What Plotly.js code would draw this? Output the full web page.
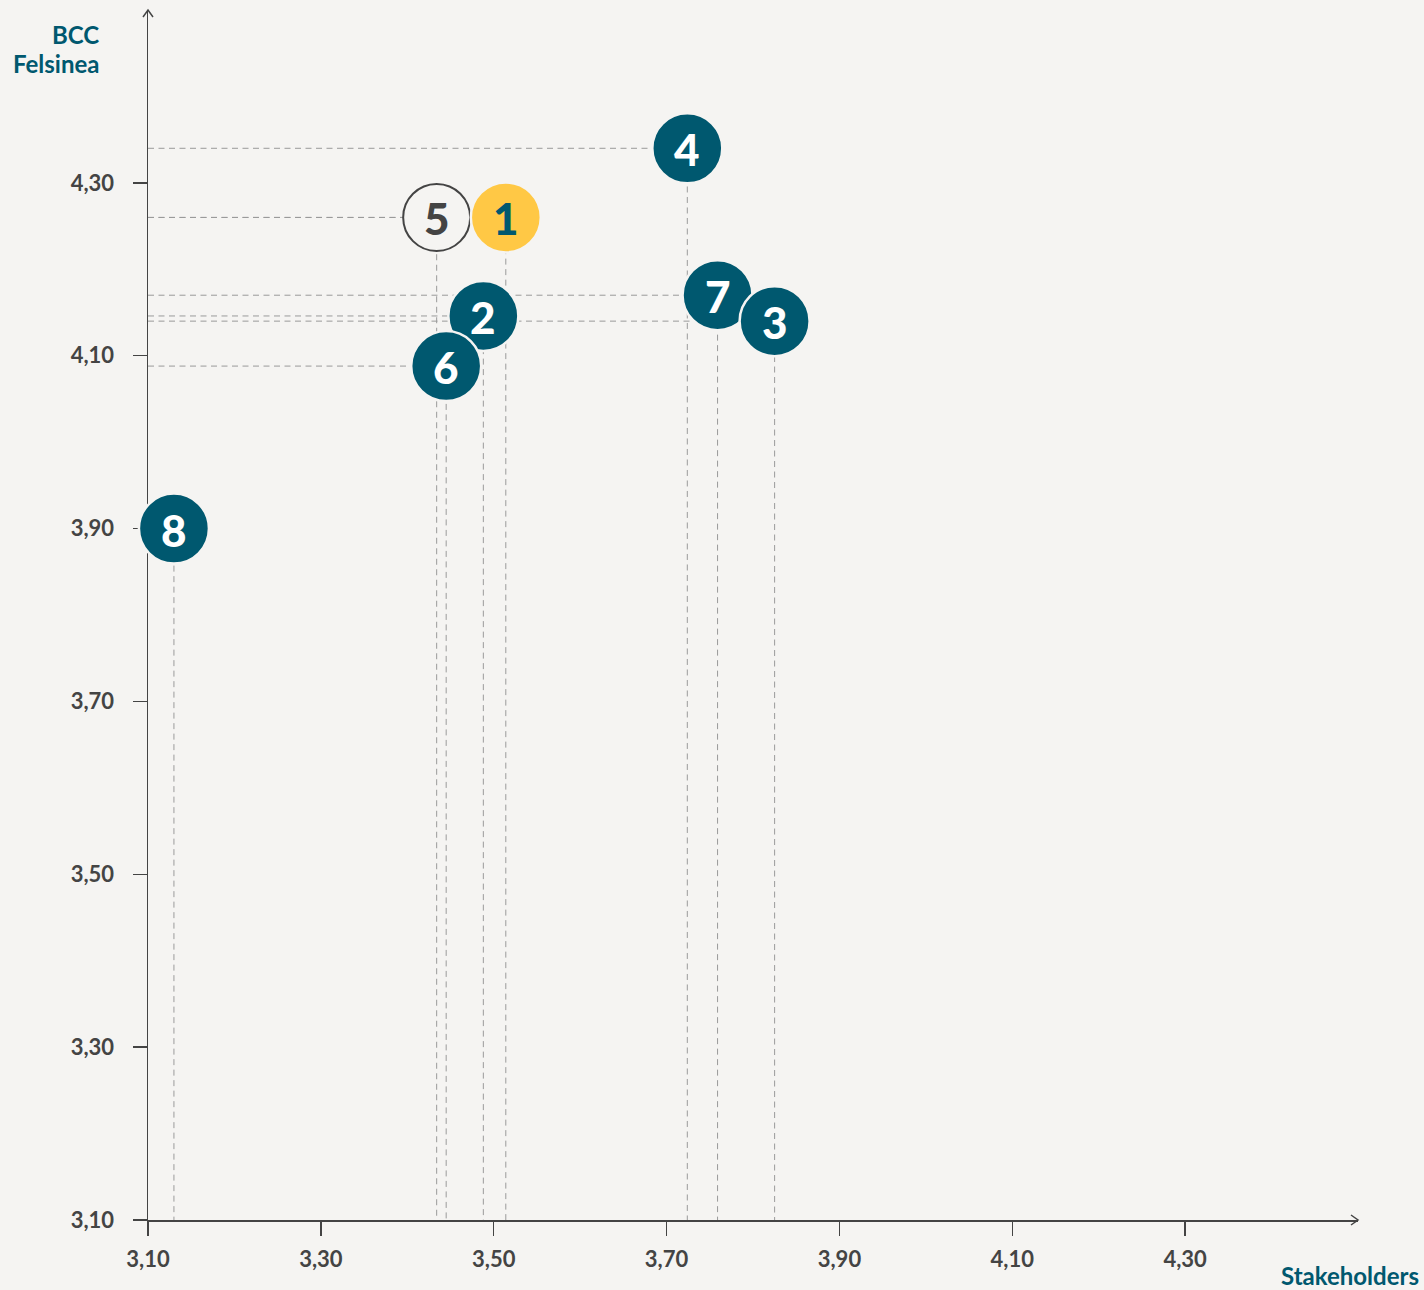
<!DOCTYPE html>
<html>
<head>
<meta charset="utf-8">
<script src="https://cdn.plot.ly/plotly-3.0.1.min.js"></script>
<style>
  html, body { margin: 0; padding: 0; background: #F5F4F2; }
  #chart { width: 1424px; height: 1290px; }
</style>
</head>
<body>
<div id="chart"></div>
<script>
// ---- data ----
var labels       = ['4', '5', '1', '7', '3', '2', '6', '8'];
var stakeholders = [3.724, 3.434, 3.514, 3.759, 3.825, 3.488, 3.445, 3.130];
var bccFelsinea  = [4.340, 4.260, 4.260, 4.170, 4.140, 4.146, 4.088, 3.900];
var kinds        = ['teal', 'outline', 'yellow', 'teal', 'teal', 'teal', 'teal', 'teal'];

var xTickVals = [3.10, 3.30, 3.50, 3.70, 3.90, 4.10, 4.30];
var xTickText = ['3,10', '3,30', '3,50', '3,70', '3,90', '4,10', '4,30'];
var yTickVals = [3.10, 3.30, 3.50, 3.70, 3.90, 4.10, 4.30];
var yTickText = ['3,10', '3,30', '3,50', '3,70', '3,90', '4,10', '4,30'];
var axisMin = 3.10, axisMax = 4.50;

var xTitle = 'Stakeholders';
var yTitleLines = ['BCC', 'Felsinea'];

// ---- styles ----
var BG = '#F5F4F2';
var TEAL = '#00586F';
var YELLOW = '#FFC845';
var DARK = '#444444';
var FONT = 'Lato, "Open Sans", sans-serif';

var fillFor  = { teal: TEAL, outline: BG, yellow: YELLOW };
var lineFor  = { teal: BG, outline: DARK, yellow: BG };
var lwFor    = { teal: 2.5, outline: 2, yellow: 2.5 };
var sizeFor  = { teal: 70, outline: 67, yellow: 70 };
var textFor  = { teal: '#FFFFFF', outline: DARK, yellow: TEAL };

// guide lines (y-axis -> point -> x-axis)
var gx = [], gy = [];
for (var i = 0; i < labels.length; i++) {
  gx.push(axisMin, stakeholders[i], stakeholders[i], null);
  gy.push(bccFelsinea[i], bccFelsinea[i], axisMin, null);
}

var guides = {
  type: 'scatter', mode: 'lines', x: gx, y: gy,
  line: { color: '#9A9A9A', width: 1, dash: '6px,4.5px' },
  hoverinfo: 'skip', showlegend: false, cliponaxis: false
};

var points = {
  type: 'scatter', mode: 'markers',
  x: stakeholders, y: bccFelsinea,
  marker: {
    size: kinds.map(function(k){ return sizeFor[k]; }),
    color: kinds.map(function(k){ return fillFor[k]; }),
    opacity: 1,
    line: { color: kinds.map(function(k){ return lineFor[k]; }), width: kinds.map(function(k){ return lwFor[k]; }) }
  },
  hoverinfo: 'skip', showlegend: false, cliponaxis: false
};

var numberAnnotations = labels.map(function(lab, i) {
  return {
    xref: 'x', yref: 'y', x: stakeholders[i], y: bccFelsinea[i],
    text: lab, showarrow: false, xanchor: 'center', yanchor: 'middle',
    yshift: -1,
    font: { family: FONT, size: 44, weight: 900, color: textFor[kinds[i]] }
  };
});

var tickFont = { family: FONT, size: 22, color: DARK, weight: 'bold' };
var axisCommon = {
  range: [axisMin, axisMax], showgrid: false, zeroline: false,
  showline: true, linecolor: DARK, linewidth: 1.5,
  ticks: 'outside', ticklen: 14, tickwidth: 1.5, tickcolor: DARK,
  tickfont: tickFont, layer: 'below traces', fixedrange: true
};

var titleFont = { family: FONT, size: 24, color: TEAL, weight: 'bold' };

var layout = {
  width: 1424, height: 1290,
  paper_bgcolor: BG, plot_bgcolor: BG,
  margin: { l: 148, r: 66, t: 10, b: 70, pad: 0 },
  showlegend: false,
  xaxis: Object.assign({}, axisCommon, { tickvals: xTickVals, ticktext: xTickText, ticklabelstandoff: 5 }),
  yaxis: Object.assign({}, axisCommon, { tickvals: yTickVals, ticktext: yTickText, ticklabelstandoff: 14 }),
  annotations: [
    { xref: 'paper', yref: 'paper', x: 0, y: 1, xanchor: 'right', yanchor: 'middle',
      xshift: -47, yshift: -24, text: yTitleLines[0], showarrow: false, font: titleFont },
    { xref: 'paper', yref: 'paper', x: 0, y: 1, xanchor: 'right', yanchor: 'middle',
      xshift: -47, yshift: -53, text: yTitleLines[1], showarrow: false, font: titleFont },
    { xref: 'paper', yref: 'paper', x: 1, y: 0, xanchor: 'right', yanchor: 'middle',
      xshift: 63, yshift: -55, text: xTitle, showarrow: false, font: titleFont }
  ].concat(numberAnnotations),
  shapes: [
    { type: 'path', xref: 'paper', yref: 'paper', xsizemode: 'pixel', ysizemode: 'pixel',
      xanchor: 1, yanchor: 0, path: 'M-7,5 L0,0 L-7,-5',
      line: { color: DARK, width: 1.5 }, layer: 'above' },
    { type: 'path', xref: 'paper', yref: 'paper', xsizemode: 'pixel', ysizemode: 'pixel',
      xanchor: 0, yanchor: 1, path: 'M-5,-7 L0,0 L5,-7',
      line: { color: DARK, width: 1.5 }, layer: 'above' }
  ]
};

Plotly.newPlot('chart', [guides, points], layout, { staticPlot: true, displayModeBar: false });
</script>
</body>
</html>
